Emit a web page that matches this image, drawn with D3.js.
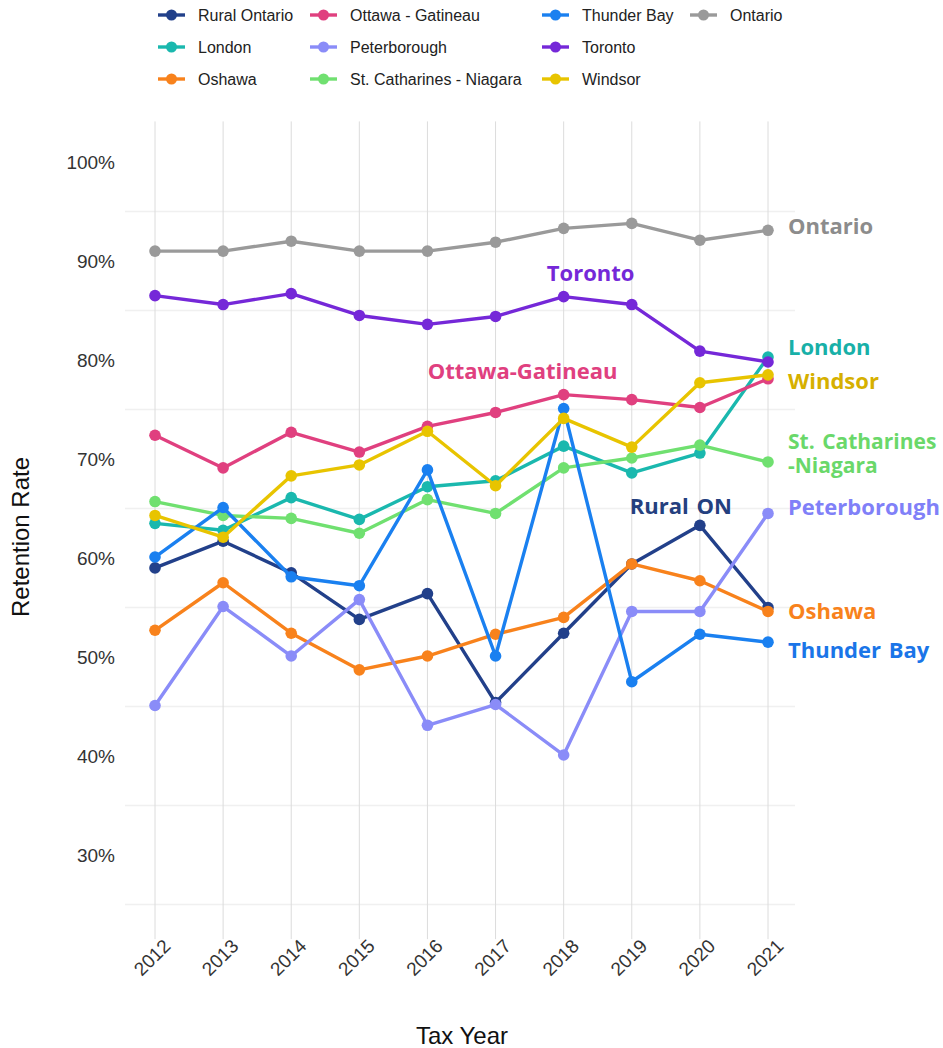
<!DOCTYPE html>
<html>
<head>
<meta charset="utf-8">
<script src="https://cdn.jsdelivr.net/npm/d3@7"></script>
<style>
  body { margin: 0; background: #fff; }
  text { font-family: "Liberation Sans", Arial, sans-serif; }
  .lab { font-family: "Open Sans", sans-serif; font-weight: bold; }
</style>
</head>
<body>
<div id="chart"></div>
<script>
// data
const years = [2012, 2013, 2014, 2015, 2016, 2017, 2018, 2019, 2020, 2021];
const regions = ["Rural Ontario", "London", "Oshawa", "Ottawa - Gatineau", "Peterborough",
  "St. Catharines - Niagara", "Thunder Bay", "Toronto", "Windsor", "Ontario"];
const colors = ["#22408a", "#1ab8ae", "#f8821c", "#e0407f", "#8a8cf8",
  "#70e070", "#1a80f0", "#7528d8", "#e8c400", "#9a9a9a"];

const ruralOntario = [59.0, 61.7, 58.5, 53.8, 56.4, 45.4, 52.4, 59.4, 63.3, 55.0];
const london       = [63.5, 62.8, 66.1, 63.9, 67.2, 67.8, 71.3, 68.6, 70.6, 80.3];
const oshawa       = [52.7, 57.5, 52.4, 48.7, 50.1, 52.3, 54.0, 59.4, 57.7, 54.6];
const ottawa       = [72.4, 69.1, 72.7, 70.7, 73.3, 74.7, 76.5, 76.0, 75.2, 78.1];
const peterborough = [45.1, 55.1, 50.1, 55.8, 43.1, 45.2, 40.1, 54.6, 54.6, 64.5];
const stCatharines = [65.7, 64.3, 64.0, 62.5, 65.9, 64.5, 69.1, 70.1, 71.4, 69.7];
const thunderBay   = [60.1, 65.1, 58.1, 57.2, 68.9, 50.1, 75.1, 47.5, 52.3, 51.5];
const toronto      = [86.5, 85.6, 86.7, 84.5, 83.6, 84.4, 86.4, 85.6, 80.9, 79.8];
const windsor      = [64.3, 62.1, 68.3, 69.4, 72.8, 67.3, 74.1, 71.2, 77.7, 78.5];
const ontario      = [91.0, 91.0, 92.0, 91.0, 91.0, 91.9, 93.3, 93.8, 92.1, 93.1];
const seriesValues = [ruralOntario, london, oshawa, ottawa, peterborough,
  stCatharines, thunderBay, toronto, windsor, ontario];

const yTicks = [30, 40, 50, 60, 70, 80, 90, 100];
const yGrid = [25, 35, 45, 55, 65, 75, 85, 95];

// direct labels placed by year / value
const endLabels = [
  { text: ["Ontario"], color: "#8c8c8c", year: 2021, value: 93.55, anchor: "start", dx: 20 },
  { text: ["Toronto"], color: "#7528d8", year: 2018, value: 88.8, anchor: "middle", dx: 27 },
  { text: ["Ottawa-Gatineau"], color: "#e0407f", year: 2017, value: 78.9, anchor: "middle", dx: 27 },
  { text: ["London"], color: "#18b0a8", year: 2021, value: 81.3, anchor: "start", dx: 20 },
  { text: ["Windsor"], color: "#d6b000", year: 2021, value: 77.9, anchor: "start", dx: 20 },
  { text: ["St. Catharines"], color: "#6ad86a", year: 2021, value: 71.75, anchor: "start", dx: 20, size: 21 },
  { text: ["-Niagara"], color: "#6ad86a", year: 2021, value: 69.4, anchor: "start", dx: 20, size: 21 },
  { text: ["Rural ON"], color: "#24407f", year: 2020, value: 65.2, anchor: "middle", dx: -19 },
  { text: ["Peterborough"], color: "#8080f8", year: 2021, value: 65.1, anchor: "start", dx: 20 },
  { text: ["Oshawa"], color: "#f8821c", year: 2021, value: 54.6, anchor: "start", dx: 20 },
  { text: ["Thunder Bay"], color: "#1a75e8", year: 2021, value: 50.7, anchor: "start", dx: 20 }
];

const width = 943, height = 1048;
const svg = d3.select("#chart").append("svg").attr("width", width).attr("height", height);

const x = d3.scalePoint().domain(years).range([155, 768]);
const y = d3.scaleLinear().domain([30, 100]).range([855, 162]);
const panelLeft = 125, panelRight = 795, panelTop = y(104.1), panelBottom = y(21.5);

// grid
svg.append("g").selectAll("line").data(yGrid).join("line")
  .attr("x1", panelLeft).attr("x2", panelRight)
  .attr("y1", d => y(d)).attr("y2", d => y(d))
  .attr("stroke", "#f0f0f0").attr("stroke-width", 1.5);
svg.append("g").selectAll("line").data(years).join("line")
  .attr("x1", d => x(d)).attr("x2", d => x(d))
  .attr("y1", panelTop).attr("y2", panelBottom)
  .attr("stroke", "#dcdcdc").attr("stroke-width", 1);

// y axis labels
const yAxis = svg.append("g").attr("transform", "translate(117,0)")
  .call(d3.axisLeft(y).tickValues(yTicks).tickSize(0).tickPadding(2).tickFormat(d => d + "%"));
yAxis.select(".domain").remove();
yAxis.selectAll("text").attr("font-size", 19).attr("fill", "#333")
  .attr("font-family", "'Liberation Sans', Arial, sans-serif");

// x axis labels
const xAxis = svg.append("g").attr("transform", "translate(0," + (panelBottom + 4) + ")")
  .call(d3.axisBottom(x).tickSize(0).tickPadding(0).tickFormat(d3.format("d")));
xAxis.select(".domain").remove();
xAxis.selectAll("text")
  .attr("font-size", 19).attr("fill", "#333")
  .attr("font-family", "'Liberation Sans', Arial, sans-serif")
  .attr("text-anchor", "end")
  .attr("y", 0).attr("dy", "0.75em").attr("dx", "0.45em")
  .attr("transform", "rotate(-45)");

// axis titles
svg.append("text").attr("x", 462).attr("y", 1044).attr("text-anchor", "middle")
  .attr("font-size", 24).attr("fill", "#111").text("Tax Year");
svg.append("text").attr("transform", "translate(29,537) rotate(-90)").attr("text-anchor", "middle")
  .attr("font-size", 24).attr("fill", "#111").text("Retention Rate");

// lines and points
const line = d3.line().x((d, i) => x(years[i])).y(d => y(d));
const series = svg.append("g").selectAll("g").data(seriesValues).join("g");
series.append("path")
  .attr("d", d => line(d))
  .attr("fill", "none")
  .attr("stroke", (d, i) => colors[i])
  .attr("stroke-width", 3.4)
  .attr("stroke-linejoin", "round");
series.each(function (vals, i) {
  d3.select(this).selectAll("circle").data(vals).join("circle")
    .attr("cx", (d, j) => x(years[j])).attr("cy", d => y(d))
    .attr("r", 5.8).attr("fill", colors[i]);
});

// direct labels
svg.append("g").selectAll("text").data(endLabels).join("text")
  .attr("class", "lab")
  .attr("x", d => x(d.year) + d.dx).attr("y", d => y(d.value))
  .attr("dy", "0.36em")
  .attr("text-anchor", d => d.anchor)
  .attr("font-size", d => d.size || 22)
  .attr("fill", d => d.color)
  .style("word-spacing", "2px")
  .text(d => d.text[0]);

// legend (column-major, 3 rows)
const legendCols = [158, 310, 542, 690];
const legendRows = [15, 47, 79];
const legend = svg.append("g").selectAll("g").data(regions).join("g")
  .attr("transform", (d, i) => "translate(" + legendCols[Math.floor(i / 3)] + "," + legendRows[i % 3] + ")");
legend.append("line").attr("x1", 0).attr("x2", 27)
  .attr("stroke", (d, i) => colors[i]).attr("stroke-width", 3.4);
legend.append("circle").attr("cx", 13.5).attr("r", 5.5).attr("fill", (d, i) => colors[i]);
legend.append("text").attr("x", 40).attr("dy", "0.36em")
  .attr("font-size", 16).attr("fill", "#222").text(d => d);
</script>
</body>
</html>
